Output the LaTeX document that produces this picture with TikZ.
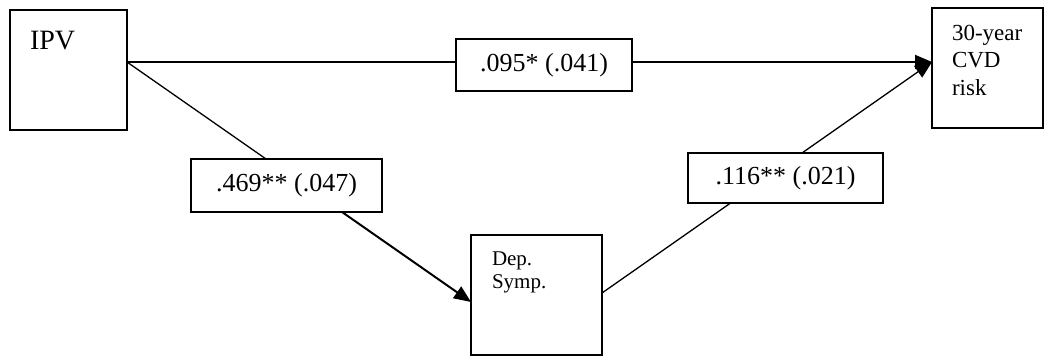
\documentclass[tikz,border=0pt]{standalone}
\usepackage{fontspec}
\setmainfont{Liberation Serif}
\usetikzlibrary{arrows.meta,calc}
\begin{document}
\begin{tikzpicture}[x=1pt,y=-1pt,
  frame/.style={draw, line width=1.5pt, inner sep=0pt, outer sep=0pt},
  coef/.style={draw, fill=white, line width=1.5pt, inner sep=0pt, outer sep=0pt,
    font=\fontsize{26}{30}\selectfont},
  caption/.style={inner sep=0pt, outer sep=0pt, align=left},
  thinlink/.style={line width=1.3pt},
  thicklink/.style={line width=2pt},
  tip/.style={-{Triangle[length=17pt,width=14pt]}},
]
\useasboundingbox (0,0) rectangle (1044,356);

% variable boxes
\node[frame, minimum width=117pt, minimum height=120pt] (ipv) at (68.5,70) {};
\node[frame, minimum width=131pt, minimum height=120pt] (dep) at (536.5,295) {};
\node[frame, minimum width=111pt, minimum height=120pt] (cvd) at (987.5,68) {};

% box captions (base anchor sits on the last line)
\node[caption, anchor=base west, font=\fontsize{28}{30}\selectfont] (ipvtext) at (30,49) {IPV};
\node[caption, anchor=base west, font=\fontsize{21}{23}\selectfont] (deptext) at (492,288) {Dep.\\Symp.};
\node[caption, anchor=base west, font=\fontsize{23}{27.5}\selectfont] (cvdtext) at (952,95) {30-year\\CVD\\risk};

% attachment points on the box borders
\coordinate (ipvR) at ([yshift=8pt]ipv.east);
\coordinate (cvdL) at ([yshift=6pt]cvd.west);
\coordinate (depL) at ([yshift=-7pt]dep.west);
\coordinate (depR) at ([yshift=2pt]dep.east);

% direct path
\draw[thinlink] (ipvR) -- ($(ipvR)!0.6!(cvdL)$);
\draw[thicklink, tip] ($(ipvR)!0.6!(cvdL)$) -- (cvdL);
% a path
\draw[thinlink] (ipvR) -- ($(ipvR)!0.6!(depL)$);
\draw[thicklink, tip] ($(ipvR)!0.6!(depL)$) -- (depL);
% b path
\draw[thinlink, tip] (depR) -- (cvdL);

% coefficient boxes
\node[coef, minimum width=176pt, minimum height=52pt] (direct) at (544,65) {.095* (.041)};
\node[coef, minimum width=191pt, minimum height=53pt] (apath) at (286.5,185.5) {.469** (.047)};
\node[coef, minimum width=195pt, minimum height=50pt] (bpath) at (785.5,178) {.116** (.021)};
\end{tikzpicture}
\end{document}
